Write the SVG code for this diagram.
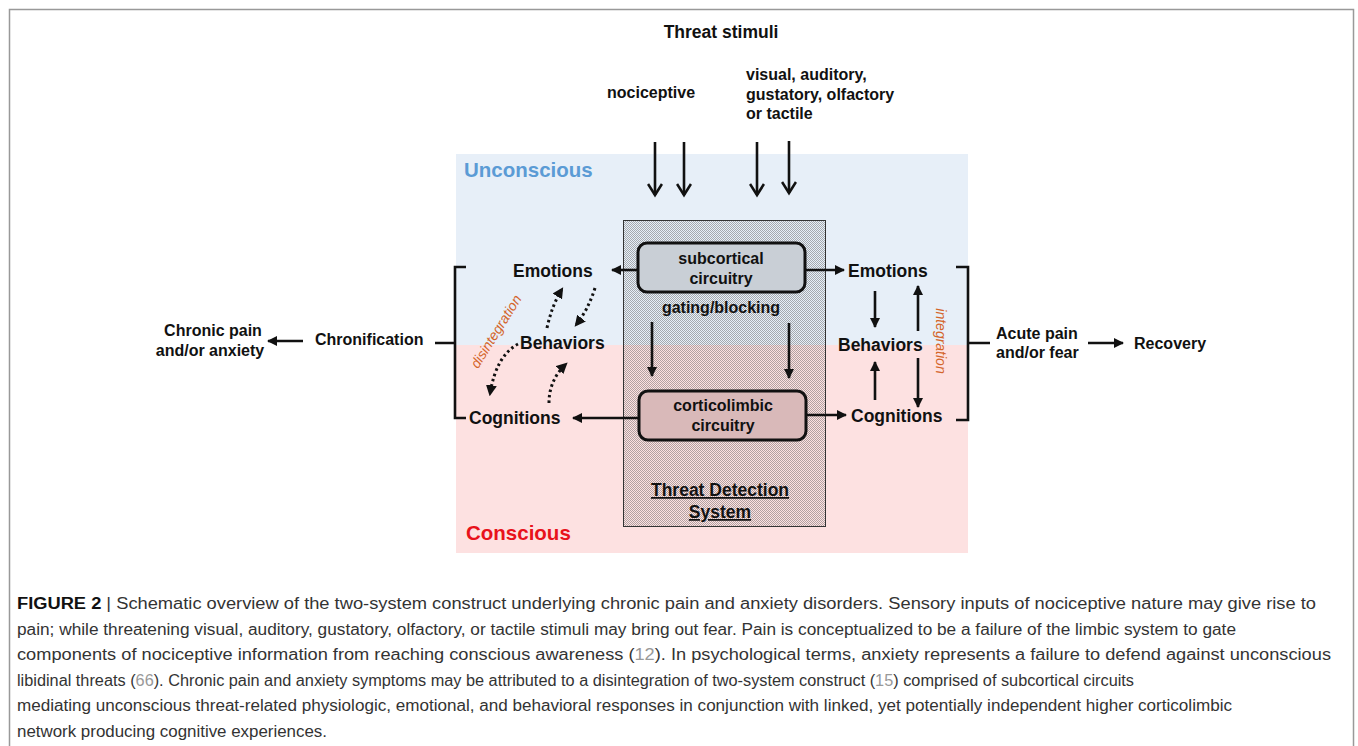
<svg xmlns="http://www.w3.org/2000/svg" width="1358" height="746" viewBox="0 0 1358 746">
<defs>
<style>
.t{font-family:"Liberation Sans",Arial,sans-serif;font-weight:bold;font-size:17.5px;fill:#111}
.s{font-size:16px}
.ln{stroke:#111;stroke-width:2.6;fill:none}
.dot{stroke:#111;stroke-width:3;fill:none;stroke-dasharray:2.5 3}
.or{font-family:"Liberation Sans",Arial,sans-serif;font-style:italic;font-size:14px;fill:#d4652a}
.cap{font-family:"Liberation Sans",Arial,sans-serif;font-size:16px;fill:#333}
.ref{fill:#999}
</style>
<pattern id="dots" width="2" height="2" patternUnits="userSpaceOnUse">
<rect x="0" y="0" width="1" height="1" fill="#555" fill-opacity="0.45"/>
<rect x="1" y="1" width="1" height="1" fill="#555" fill-opacity="0.45"/>
</pattern>
<marker id="ah" viewBox="0 0 10 10" markerWidth="10" markerHeight="10" refX="9" refY="5" orient="auto" markerUnits="userSpaceOnUse">
<path d="M0,0 L10,5 L0,10 z" fill="#111"/>
</marker>
<marker id="ch" viewBox="0 0 16 16" markerWidth="16" markerHeight="16" refX="13" refY="8" orient="auto" markerUnits="userSpaceOnUse">
<path d="M2,1 L13,8 L2,15" fill="none" stroke="#111" stroke-width="2.6"/>
</marker>
<marker id="dh" viewBox="0 0 10 10" markerWidth="11" markerHeight="11" refX="8" refY="5" orient="auto" markerUnits="userSpaceOnUse">
<path d="M0,0 L10,5 L0,10 z" fill="#111"/>
</marker>
</defs>
<rect x="9.5" y="9.5" width="1344" height="760" fill="#fff" stroke="#999" stroke-width="1.5"/>

<g id="background">
<rect x="456" y="154" width="512" height="191" fill="#e7eff8"/>
<rect x="456" y="345" width="512" height="208" fill="#fde1e1"/>
<text x="464" y="177" class="t" style="font-size:20.5px;fill:#5b9bd5">Unconscious</text>
<text x="466" y="540" class="t" style="font-size:20.5px;fill:#e8121b">Conscious</text>
</g>

<g id="threat-detection-system">
<rect x="623.5" y="220.5" width="202" height="306" fill="url(#dots)" stroke="#333" stroke-width="1"/>
<text x="720" y="496" class="t" text-anchor="middle" text-decoration="underline">Threat Detection</text>
<text x="720" y="518" class="t" text-anchor="middle" text-decoration="underline">System</text>
</g>

<g id="subcortical">
<rect x="638" y="243" width="167" height="49" rx="9" fill="#c9cfd6" stroke="#111" stroke-width="3"/>
<text x="721" y="264" class="t s" text-anchor="middle">subcortical</text>
<text x="721" y="284" class="t s" text-anchor="middle">circuitry</text>
</g>
<g id="corticolimbic">
<rect x="639" y="391" width="167" height="49" rx="9" fill="#d9b9b9" stroke="#111" stroke-width="3"/>
<text x="723" y="411" class="t s" text-anchor="middle">corticolimbic</text>
<text x="723" y="431" class="t s" text-anchor="middle">circuitry</text>
</g>

<g id="labels">
<text x="721" y="38" class="t" text-anchor="middle">Threat stimuli</text>
<text x="607" y="98" class="t s">nociceptive</text>
<text x="746" y="80" class="t s">visual, auditory,</text>
<text x="746" y="100" class="t s">gustatory, olfactory</text>
<text x="746" y="119" class="t s">or tactile</text>
<text x="721" y="313" class="t s" text-anchor="middle">gating/blocking</text>
<text x="513" y="277" class="t">Emotions</text>
<text x="520" y="349" class="t">Behaviors</text>
<text x="469" y="424" class="t">Cognitions</text>
<text x="848" y="277" class="t">Emotions</text>
<text x="838" y="351" class="t">Behaviors</text>
<text x="851" y="422" class="t">Cognitions</text>
<text x="213" y="336" class="t s" text-anchor="middle">Chronic pain</text>
<text x="210" y="356" class="t s" text-anchor="middle">and/or anxiety</text>
<text x="315" y="345" class="t s">Chronification</text>
<text x="996" y="339" class="t s">Acute pain</text>
<text x="996" y="358" class="t s">and/or fear</text>
<text x="1134" y="349" class="t s">Recovery</text>
<text class="or" transform="translate(936,341) rotate(90)" text-anchor="middle">integration</text>
<text class="or" transform="translate(500,334) rotate(-58)" text-anchor="middle">disintegration</text>
</g>

<g id="connectors">
<line x1="655" y1="142" x2="655" y2="195" class="ln" marker-end="url(#ch)"/>
<line x1="684" y1="142" x2="684" y2="195" class="ln" marker-end="url(#ch)"/>
<line x1="757" y1="142" x2="757" y2="195" class="ln" marker-end="url(#ch)"/>
<line x1="789" y1="141" x2="789" y2="193" class="ln" marker-end="url(#ch)"/>
<line x1="637" y1="270" x2="612" y2="270" class="ln" marker-end="url(#ah)"/>
<line x1="805" y1="270" x2="844" y2="270" class="ln" marker-end="url(#ah)"/>
<line x1="638" y1="418" x2="573" y2="418" class="ln" marker-end="url(#ah)"/>
<line x1="807" y1="415" x2="846" y2="415" class="ln" marker-end="url(#ah)"/>
<line x1="652" y1="322" x2="652" y2="376" class="ln" marker-end="url(#ah)"/>
<line x1="789" y1="323" x2="789" y2="378" class="ln" marker-end="url(#ah)"/>
<line x1="875" y1="291" x2="875" y2="327" class="ln" marker-end="url(#ah)"/>
<line x1="918" y1="331" x2="918" y2="286" class="ln" marker-end="url(#ah)"/>
<line x1="875" y1="400" x2="875" y2="362" class="ln" marker-end="url(#ah)"/>
<line x1="918" y1="358" x2="918" y2="407" class="ln" marker-end="url(#ah)"/>
<path d="M547,328 Q552,305 562,289" class="dot" marker-end="url(#dh)"/>
<path d="M595,288 Q588,310 576,325" class="dot" marker-end="url(#dh)"/>
<path d="M518,344 Q496,356 490,394" class="dot" marker-end="url(#dh)"/>
<path d="M549,403 Q549,380 566,364" class="dot" marker-end="url(#dh)"/>
<path d="M466,267 L455,267 L455,418 L466,418 M435,343 L455,343" class="ln" stroke-width="2"/>
<path d="M956,267 L968,267 L968,420 L956,420 M968,343 L990,343" class="ln" stroke-width="2"/>
<line x1="303" y1="341" x2="268" y2="341" class="ln" marker-end="url(#ah)"/>
<line x1="1088" y1="343" x2="1123" y2="343" class="ln" marker-end="url(#ah)"/>
</g>

<g id="caption">
<text x="17" y="609" class="cap" textLength="1299" lengthAdjust="spacingAndGlyphs"><tspan font-weight="bold" fill="#111">FIGURE 2</tspan> | Schematic overview of the two-system construct underlying chronic pain and anxiety disorders. Sensory inputs of nociceptive nature may give rise to</text>
<text x="17" y="634.5" class="cap" textLength="1219" lengthAdjust="spacingAndGlyphs">pain; while threatening visual, auditory, gustatory, olfactory, or tactile stimuli may bring out fear. Pain is conceptualized to be a failure of the limbic system to gate</text>
<text x="17" y="660" class="cap" textLength="1314" lengthAdjust="spacingAndGlyphs">components of nociceptive information from reaching conscious awareness (<tspan class="ref">12</tspan>). In psychological terms, anxiety represents a failure to defend against unconscious</text>
<text x="17" y="685.5" class="cap" textLength="1117" lengthAdjust="spacingAndGlyphs">libidinal threats (<tspan class="ref">66</tspan>). Chronic pain and anxiety symptoms may be attributed to a disintegration of two-system construct (<tspan class="ref">15</tspan>) comprised of subcortical circuits</text>
<text x="17" y="711" class="cap" textLength="1215" lengthAdjust="spacingAndGlyphs">mediating unconscious threat-related physiologic, emotional, and behavioral responses in conjunction with linked, yet potentially independent higher corticolimbic</text>
<text x="17" y="736.5" class="cap" textLength="310" lengthAdjust="spacingAndGlyphs">network producing cognitive experiences.</text>
</g>
</svg>
